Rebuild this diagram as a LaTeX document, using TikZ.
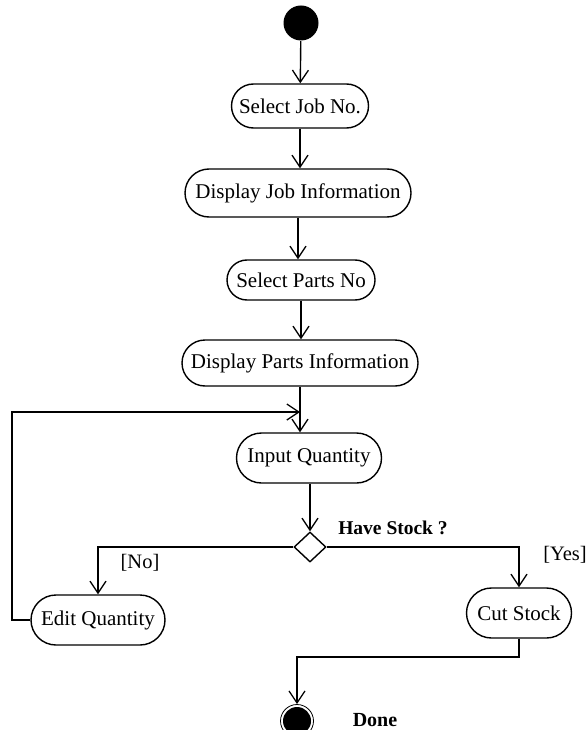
\documentclass[tikz,border=0pt]{standalone}
\usepackage{fontspec}
\setmainfont{Liberation Serif}
\usetikzlibrary{arrows.meta,shapes.misc,shapes.geometric}
\begin{document}
\begin{tikzpicture}[x=1pt,y=-1pt,
  line width=1.4pt,
  act/.style={draw,rounded rectangle,inner sep=0pt,font=\fontsize{21}{23}\selectfont},
  lbl/.style={inner sep=0pt,font=\fontsize{20.5}{22}\selectfont},
  flow/.style={-{Straight Barb[length=12pt,width=16pt,line width=1.3pt]}}]
\useasboundingbox (0,0) rectangle (587,730);
\node[circle,fill=black,minimum size=35pt,inner sep=0pt] (start) at (301,23) {};
\node[act,minimum width=137pt,minimum height=44pt] (selJob) at (300,106) {Select Job No.};
\node[act,minimum width=226pt,minimum height=48pt] (dispJob) at (298,193) {Display Job Information};
\node[act,minimum width=148pt,minimum height=40pt] (selParts) at (301,280) {Select Parts No};
\node[act,minimum width=236pt,minimum height=46pt] (dispParts) at (300,363) {Display Parts Information};
\node[act,minimum width=145pt,minimum height=50pt] (inQty) at (309,458) {Input Quantity};
\node[draw,diamond,minimum width=32pt,minimum height=30pt,inner sep=0pt] (dec) at (310,547) {};
\node[act,minimum width=134pt,minimum height=50pt] (edit) at (98,620) {Edit Quantity};
\node[act,minimum width=105pt,minimum height=50pt] (cut) at (519,613) {Cut Stock};
\node[circle,draw,line width=0.8pt,minimum size=33pt,inner sep=0pt] (end) at (297,721) {};
\fill[black] (end.center) circle (14pt);
\node[lbl,font=\fontsize{19.5}{22}\selectfont\bfseries] (have) at (393,528) {Have Stock ?};
\node[lbl] (no) at (140,563) {[No]};
\node[lbl] (yes) at (565,555) {[Yes]};
\node[lbl,font=\fontsize{20}{22}\selectfont\bfseries] (done) at (375,720) {Done};
\coordinate (J) at (300,412);
\coordinate (L1) at (12,620);
\coordinate (L2) at (12,412);
\coordinate (C1) at (519,657);
\coordinate (C2) at (297,657);
\draw[flow] (start) -- (selJob);
\draw[flow] (selJob.south) -- (selJob.south |- dispJob.north);
\draw[flow] (dispJob.south) -- (dispJob.south |- selParts.north);
\draw[flow] (selParts.south) -- (selParts.south |- dispParts.north);
\draw[flow] (dispParts.south) -- (dispParts.south |- inQty.north);
\draw[flow] (edit.west) -- (L1) -- (L2) -- (J);
\draw[flow] (inQty.south -| dec.north) -- (dec.north);
\draw[flow] (dec.west) -| (edit.north);
\draw[flow] (dec.east) -| (cut.north);
\draw[flow] (cut.south) -- (C1) -- (C2) -- (end.north);
\end{tikzpicture}
\end{document}
